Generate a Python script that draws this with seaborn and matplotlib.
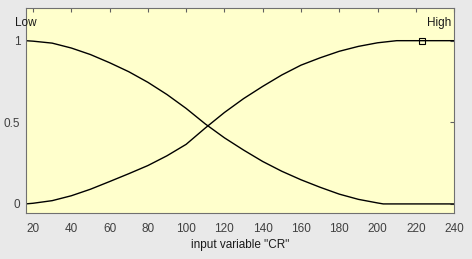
import matplotlib
matplotlib.use("Agg")
import matplotlib.pyplot as plt
import seaborn as sns
import pandas as pd

# Data
x_low = [16, 20, 30, 40, 50, 60, 70, 80, 90, 100, 110, 120, 130, 140, 150, 160, 170, 180, 190, 200, 203, 240]
low = [1.0, 0.997, 0.985, 0.955, 0.915, 0.865, 0.81, 0.745, 0.67, 0.585, 0.49, 0.405, 0.33, 0.26, 0.2, 0.148, 0.102, 0.06, 0.028, 0.006, 0.0, 0.0]
x_high = [16, 20, 30, 40, 50, 60, 70, 80, 90, 100, 110, 120, 130, 140, 150, 160, 170, 180, 190, 200, 210, 240]
high = [0.0, 0.004, 0.02, 0.05, 0.09, 0.137, 0.185, 0.235, 0.295, 0.365, 0.465, 0.56, 0.645, 0.72, 0.79, 0.85, 0.895, 0.935, 0.965, 0.987, 1.0, 1.0]
mf_names = ["Low", "High"]
mf_label_x = [16, 232]
marker_x = [223]
marker_y = [1.0]
x_ticks = [20, 40, 60, 80, 100, 120, 140, 160, 180, 200, 220, 240]
y_ticks = [0, 0.5, 1]
y_tick_labels = ["0", "0.5", "1"]
x_label = 'input variable "CR"'

sns.set_style("white")
plt.rcParams["font.family"] = ["Liberation Sans", "DejaVu Sans"]

fig = plt.figure(figsize=(4.72, 2.59), dpi=100, facecolor="#e9e9e9")
ax = fig.add_axes([0.055, 0.178, 0.907, 0.791])
ax.set_facecolor("#ffffcc")

df_low = pd.DataFrame({"x": x_low, "y": low})
df_high = pd.DataFrame({"x": x_high, "y": high})
sns.lineplot(data=df_low, x="x", y="y", ax=ax, color="black", linewidth=1.0, estimator=None, sort=False)
sns.lineplot(data=df_high, x="x", y="y", ax=ax, color="black", linewidth=1.0, estimator=None, sort=False)
ax.plot(marker_x, marker_y, marker="s", markersize=4, markerfacecolor="none",
        markeredgecolor="black", markeredgewidth=0.8, linestyle="none")

for name, lx in zip(mf_names, mf_label_x):
    ax.text(lx, 1.11, name, ha="center", va="center", fontsize=8.5, color="#1a1a1a")

ax.set_xlim(16.3, 240)
ax.set_ylim(-0.055, 1.2)
ax.set_xticks(x_ticks)
ax.set_xticklabels([str(t) for t in x_ticks])
ax.set_yticks(y_ticks)
ax.set_yticklabels(y_tick_labels)
ax.tick_params(axis="both", direction="in", length=3, width=0.8, color="#606060",
               labelsize=8.5, labelcolor="#404040", top=True, right=True, pad=4)
ax.tick_params(axis="x", pad=7)
for s in ax.spines.values():
    s.set_visible(True)
    s.set_color("#707070")
    s.set_linewidth(0.8)
ax.set_xlabel(x_label, fontsize=8.5, color="#1a1a1a", labelpad=3)
ax.set_ylabel("")

fig.savefig("out.png", dpi=100, facecolor=fig.get_facecolor())
